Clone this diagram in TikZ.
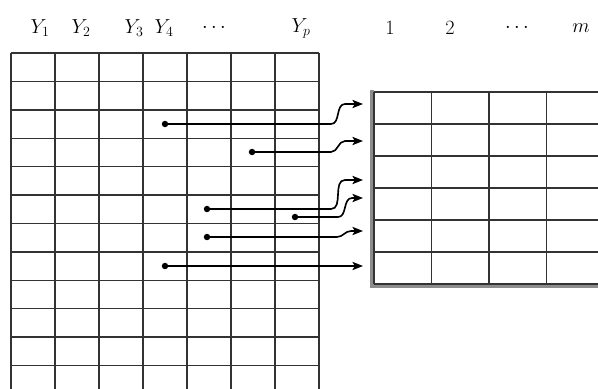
\documentclass[tikz,border=0pt]{standalone}
\usetikzlibrary{arrows.meta}
\tikzset{
  gridline/.style={black!80,line width=1.2pt},
  dot/.style={circle,fill=black,inner sep=0pt,minimum size=5.5pt},
  link/.style={line width=1.4pt,-{Stealth[length=9pt,width=7pt,inset=2pt]}},
  head/.style={font=\LARGE}
}
\begin{document}
\begin{tikzpicture}[x=0.03cm,y=-0.03cm]
  \clip (0,0) rectangle (598,388);
  % left table
  \foreach \i in {0,...,7}
    \draw[gridline] (11+44*\i,53) -- (11+44*\i,390);
  \foreach \j in {0,...,11}
    \draw[gridline] (11,53+28.4*\j) -- (319,53+28.4*\j);
  % right table
  \draw[black!45,line width=3pt] (372,90) -- (372,286) -- (600,286);
  \foreach \i in {0,...,3}
    \draw[gridline] (374+57.5*\i,92) -- (374+57.5*\i,284);
  \foreach \j in {0,...,6}
    \draw[gridline] (374,92+32*\j) -- (600,92+32*\j);
  % column labels
  \foreach \t/\x/\n in {
    $Y_1$/40/y1, $Y_2$/81/y2, $Y_3$/134/y3, $Y_4$/164/y4,
    $\cdots$/214/ydots, $Y_p$/301/yp,
    $1$/390/c1, $2$/450/c2, $\cdots$/517/cdots, $m$/581/cm}
  {
    \node[head] (\n) at (\x,28) {\t};
  }
  % links
  \foreach \n/\sx/\sy/\bx/\ty in {
    1/165/124/331/104, 2/252/152/331/141, 3/207/209/331/180,
    4/295/217/338/198, 5/207/237/337/231, 6/165/266/338/266}
  {
    \node[dot] (s\n) at (\sx,\sy) {};
    \coordinate (e\n) at (363,\ty);
    \draw[link] (s\n.center) -- (\bx,\sy) to[out=0,in=180] (\bx+14,\ty) -- (e\n);
  }
\end{tikzpicture}
\end{document}
